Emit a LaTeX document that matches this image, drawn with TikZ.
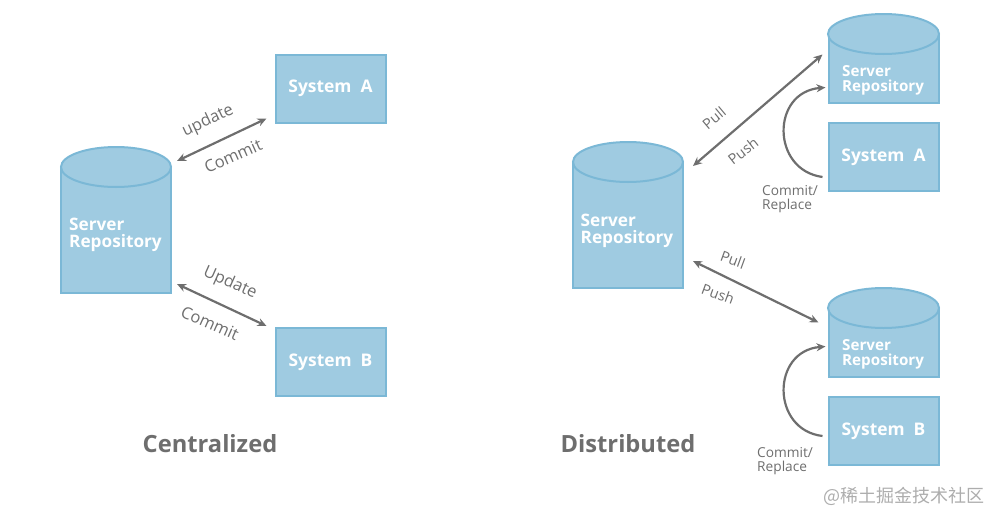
\documentclass[tikz,border=0pt]{standalone}
\usepackage{fontspec}
\setmainfont{Open Sans}
\newfontfamily\cjkfont{Noto Sans CJK SC}
\usetikzlibrary{arrows.meta,calc}
\definecolor{boxfill}{HTML}{9FCBE1}
\definecolor{boxline}{HTML}{7BB8D6}
\definecolor{ink}{HTML}{6E6E6E}
\tikzset{
  body/.style={draw=boxline,fill=boxfill,line width=2pt,minimum width=110pt,inner sep=0pt,rectangle},
  lid/.style={draw=boxline,fill=boxfill,line width=2pt},
  sysbox/.style={body,minimum height=68pt,text=white,font=\bfseries\fontsize{17.4}{18}\selectfont},
  srvtext/.style={text=white,anchor=west,align=left,inner sep=0pt,font=\bfseries\fontsize{17.2}{17.5}\selectfont},
  srvsmall/.style={text=white,anchor=west,align=left,inner sep=0pt,font=\bfseries\fontsize{15.2}{15}\selectfont},
  link/.style={draw=ink,line width=2.2pt,{Stealth[length=9pt,width=8pt]}-{Stealth[length=9pt,width=8pt]}},
  curved/.style={draw=ink,line width=2.2pt,-{Stealth[length=9pt,width=8pt]}},
  lab/.style={text=ink,inner sep=0pt,font=\fontsize{16.5}{17}\selectfont},
  labs/.style={text=ink,inner sep=0pt,font=\fontsize{14.5}{15}\selectfont},
  note/.style={text=ink,inner sep=0pt,anchor=west,align=left,font=\fontsize{13.7}{14}\selectfont},
  head/.style={text=ink,inner sep=0pt,font=\bfseries\fontsize{23.7}{24}\selectfont}
}
\begin{document}
\begin{tikzpicture}[x=1pt,y=-1pt]
\useasboundingbox (0,0) rectangle (1000,522);
% Centralized
\node[body,minimum height=126pt] (srvL) at (116,230) {};
\draw[lid] (116,167) ellipse [x radius=55,y radius=20];
\node[srvtext] (srvLt) at (69,235) {Server\\Repository};
\node[sysbox] (sysA) at (330.5,88.5) {System\ \ A};
\node[sysbox] (sysB) at (330.5,362) {System\ \ B};
\coordinate (p1) at ($(srvL.north east)+(5,-5)$);
\coordinate (p2) at ($(sysA.south west)+(-8,-5)$);
\coordinate (p3) at ($(srvL.south east)+(5,-10)$);
\coordinate (p4) at ($(sysB.north west)+(-8,-1)$);
\draw[link] (p1) -- (p2);
\draw[link] (p3) -- (p4);
\node[lab,rotate=25] (l1) at (208,121) {update};
\node[lab,rotate=24] (l2) at (233,156) {Commit};
\node[lab,rotate=-24] (l3) at (230,283) {Update};
\node[lab,rotate=-24] (l4) at (210,323) {Commit};
\node[head] (t1) at (210,444) {Centralized};
% Distributed
\node[body,minimum height=126pt] (srvR) at (628,225) {};
\draw[lid] (628,162) ellipse [x radius=55,y radius=20];
\node[srvtext] (srvRt) at (580.5,231) {Server\\Repository};
\node[body,minimum height=69pt] (srvA) at (883.5,68.5) {};
\draw[lid] (883.5,34) ellipse [x radius=55.5,y radius=20];
\node[srvsmall] (srvAt) at (842,80) {Server\\Repository};
\node[sysbox] (dsysA) at (883.5,157) {System\ \ A};
\node[body,minimum height=69pt] (srvB) at (883.5,342.5) {};
\draw[lid] (883.5,308) ellipse [x radius=55.5,y radius=20];
\node[srvsmall] (srvBt) at (842,354) {Server\\Repository};
\node[sysbox] (dsysB) at (883.5,431) {System\ \ B};
\coordinate (q1) at ($(srvR.north east)+(9,5)$);
\coordinate (q2) at ($(srvA.west)+(-5,-14)$);
\coordinate (q3) at ($(srvR.east)+(9,36)$);
\coordinate (q4) at ($(srvB.west)+(-9,-20)$);
\coordinate (q5) at ($(dsysA.west)+(-5,20)$);
\coordinate (q6) at ($(srvA.west)+(-2,19)$);
\coordinate (q7) at ($(dsysB.west)+(-5,5)$);
\coordinate (q8) at ($(srvB.west)+(-2,4)$);
\draw[link] (q1) -- (q2);
\draw[link] (q3) -- (q4);
\draw[curved] (q5) .. controls (771,170) and (771,92) .. (q6);
\draw[curved] (q7) .. controls (771,430) and (771,351) .. (q8);
\node[labs,rotate=40] (l5) at (714,118) {Pull};
\node[labs,rotate=38] (l6) at (743,151) {Push};
\node[labs,rotate=-20] (l7) at (733,260) {Pull};
\node[labs,rotate=-20] (l8) at (718,294) {Push};
\node[note] (n1) at (762,199.5) {Commit/\\Replace};
\node[note] (n2) at (757,461.5) {Commit/\\Replace};
\node[head] (t2) at (628,444) {Distributed};
\node[anchor=east,inner sep=0pt,text=black!32,font=\cjkfont\fontsize{18}{20}\selectfont] (wm) at (985,496) {@稀土掘金技术社区};
\end{tikzpicture}
\end{document}
